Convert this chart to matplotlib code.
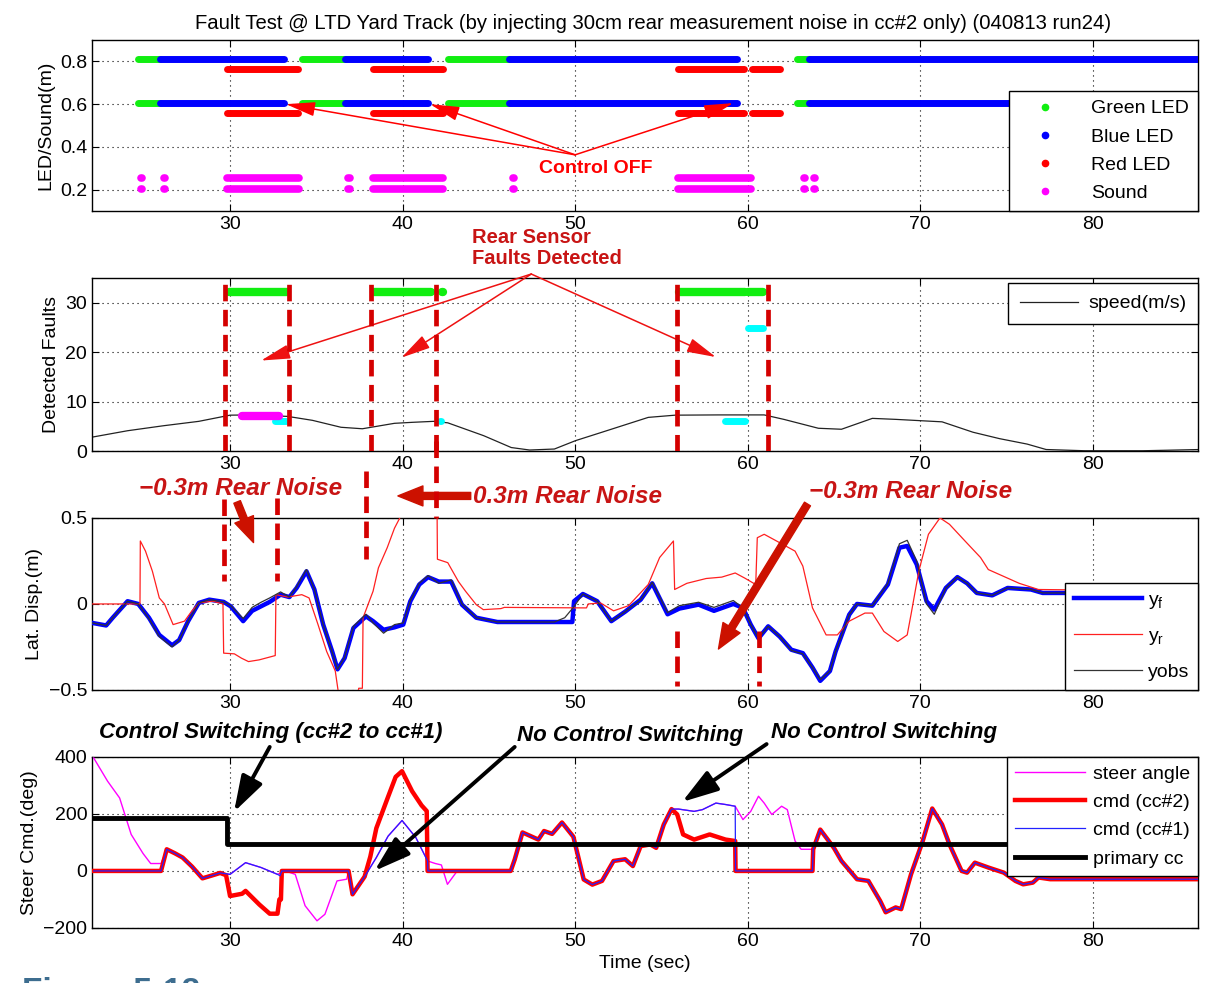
import numpy as np
import matplotlib
matplotlib.use("Agg")
import matplotlib.pyplot as plt
from matplotlib.lines import Line2D

plt.rcParams['font.family'] = ['Liberation Sans', 'DejaVu Sans']
plt.rcParams['mathtext.fontset'] = 'custom'
plt.rcParams['mathtext.rm'] = 'Liberation Sans'
plt.rcParams['mathtext.it'] = 'Liberation Sans:italic'

# ---- panel 1: LED / sound on-intervals (sec) ----
green_on = [(24.64, 25.96), (34.16, 36.64), (42.62, 46.16), (62.87, 63.54)]
blue_on = [(25.96, 33.13), (36.64, 41.48), (46.16, 59.4), (63.54, 86.2)]
red_on = [(29.84, 33.92), (38.29, 42.37), (55.99, 59.8), (60.25, 61.9)]
sound_on = [(24.82, 24.88), (26.15, 26.25), (29.84, 34.0), (36.85, 36.95),
            (38.29, 42.37), (46.4, 46.48), (55.99, 60.18), (63.27, 63.33),
            (63.87, 63.93)]
led_rows = [0.81, 0.607]
red_rows = [0.763, 0.56]
sound_rows = [0.255, 0.205]

# ---- panel 2: detected faults ----
fault_green = [(29.94, 33.3), (38.35, 41.63), (42.27, 42.33), (56.04, 59.84), (60.02, 60.92)]
fault_green_y = 32.1
fault_cyan_hi = [(60.02, 60.92)]
fault_cyan_hi_y = 24.8
fault_cyan_lo = [(32.58, 33.24), (42.17, 42.23), (58.68, 59.84)]
fault_cyan_lo_y = 6.0
fault_mag = [(30.7, 32.82)]
fault_mag_y = 7.05

speed_t = [22.0, 24.06, 26.12, 28.19, 30.0, 31.28, 33.34, 34.78, 36.43, 37.67,
           39.53, 40.56, 41.8, 42.62, 44.7, 46.3, 47.36, 48.8, 50.03, 51.56,
           52.9, 54.24, 55.8, 58.3, 60.96, 62.1, 64.1, 65.44, 67.23, 68.58,
           71.27, 73.06, 74.6, 76.2, 77.3, 79.55, 82.9, 86.2]
speed_v = [2.8, 4.1, 5.1, 6.0, 7.25, 7.3, 7.0, 6.2, 4.8, 4.5,
           5.6, 5.8, 6.0, 5.7, 3.1, 0.7, 0.2, 0.4, 2.1, 3.8,
           5.3, 6.8, 7.25, 7.3, 7.3, 6.4, 4.6, 4.4, 6.6, 6.4,
           5.9, 3.8, 2.5, 1.4, 0.3, 0.05, 0.05, 0.3]

fault_times = [29.73, 33.4, 38.19, 41.94, 55.92, 61.19]
# extra dashed marks drawn in panel-3 units: (time, y0, y1)
fault_marks_p3 = [(29.67, 0.61, 0.134), (32.72, 0.616, 0.134), (37.88, 0.773, 0.262),
                  (41.94, 0.95, 0.5), (55.88, -0.157, -0.477), (60.67, -0.157, -0.477)]

# ---- panel 3: lateral displacement ----
yf_t = [22.0, 22.82, 23.2, 24.06, 24.68, 25.3, 25.9, 26.64, 27.05, 27.57,
        28.19, 28.8, 29.63, 30.04, 30.76, 31.28, 32.3, 32.93, 33.44, 33.86,
        34.43, 34.89, 35.4, 35.92, 36.23, 36.64, 37.15, 37.88, 38.29, 38.9,
        39.53, 40.04, 40.45, 40.97, 41.48, 42.1, 42.82, 43.44, 44.27, 45.5,
        49.84, 49.94, 50.45, 51.28, 52.1, 52.9, 53.8, 54.47, 55.36, 56.04,
        57.16, 58.05, 59.17, 59.73, 60.18, 60.63, 61.19, 61.86, 62.53, 63.2,
        63.76, 64.21, 64.77, 65.1, 65.89, 66.34, 67.23, 68.13, 68.8, 69.25,
        69.8, 70.37, 70.82, 71.49, 72.16, 72.72, 73.28, 74.18, 75.07, 76.42,
        77.1, 86.2]
yf_v = [-0.11, -0.125, -0.08, 0.016, 0.0, -0.08, -0.18, -0.24, -0.21, -0.10,
        0.006, 0.025, 0.012, -0.014, -0.10, -0.04, 0.012, 0.054, 0.04, 0.093,
        0.19, 0.084, -0.12, -0.276, -0.38, -0.315, -0.14, -0.072, -0.10, -0.15,
        -0.136, -0.12, 0.016, 0.113, 0.156, 0.13, 0.13, -0.004, -0.08, -0.105,
        -0.105, 0.016, 0.058, 0.016, -0.10, -0.045, 0.025, 0.12, -0.06, -0.027,
        -0.004, -0.04, 0.0, -0.023, -0.12, -0.2, -0.13, -0.19, -0.266, -0.286,
        -0.37, -0.447, -0.39, -0.276, -0.062, 0.0, -0.01, 0.113, 0.327, 0.337,
        0.23, 0.016, -0.033, 0.093, 0.156, 0.12, 0.064, 0.05, 0.093, 0.084,
        0.064, 0.064]
yobs_t = [22.0, 22.82, 23.2, 24.06, 24.68, 25.3, 25.9, 26.64, 27.05, 27.57,
          28.19, 28.8, 29.63, 30.04, 30.76, 31.28, 31.8, 32.3, 32.93, 33.44,
          33.86, 34.43, 34.89, 35.4, 35.92, 36.23, 36.64, 37.15, 37.88, 38.29,
          38.9, 39.53, 40.04, 40.45, 40.97, 41.48, 42.1, 42.82, 43.44, 44.27,
          45.5, 48.8, 49.4, 49.9, 50.45, 51.28, 52.1, 52.9, 53.8, 54.47,
          55.36, 56.04, 57.16, 58.05, 59.17, 59.73, 60.18, 60.63, 61.19, 61.86,
          62.53, 63.2, 63.76, 64.21, 64.77, 65.1, 65.89, 66.34, 67.23, 68.13,
          68.8, 69.25, 69.8, 70.37, 70.82, 71.49, 72.16, 72.72, 73.28, 74.18,
          75.07, 76.42, 77.1, 86.2]
yobs_v = [-0.11, -0.125, -0.08, 0.016, 0.0, -0.085, -0.19, -0.25, -0.21, -0.10,
          0.006, 0.025, 0.012, -0.01, -0.085, -0.02, 0.01, 0.035, 0.07, 0.04,
          0.1, 0.2, 0.084, -0.12, -0.28, -0.38, -0.31, -0.13, -0.06, -0.11,
          -0.17, -0.12, -0.11, 0.02, 0.12, 0.165, 0.12, 0.14, -0.0, -0.08,
          -0.105, -0.105, -0.08, -0.02, 0.058, 0.016, -0.10, -0.045, 0.025, 0.125,
          -0.05, -0.01, 0.01, -0.02, 0.02, -0.023, -0.12, -0.2, -0.13, -0.19,
          -0.27, -0.29, -0.37, -0.44, -0.39, -0.276, -0.062, 0.0, -0.01, 0.12,
          0.35, 0.37, 0.25, 0.0, -0.06, 0.093, 0.156, 0.12, 0.064, 0.05,
          0.093, 0.084, 0.064, 0.064]
yr_t = [22.0, 24.78, 24.8, 25.1, 25.5, 25.9, 26.2, 26.7, 27.36, 27.77,
        28.19, 29.0, 29.59, 29.63, 30.25, 30.66, 31.07, 31.69, 32.62, 32.66,
        33.34, 34.16, 34.58, 35.1, 35.6, 36.1, 36.33, 37.36, 37.46, 37.67,
        37.71, 38.29, 38.6, 39.11, 39.53, 39.84, 39.94, 42.0, 42.02, 42.62,
        43.24, 43.65, 44.27, 44.68, 45.7, 45.9, 50.66, 50.76, 51.47, 52.23,
        53.1, 54.24, 54.9, 55.7, 55.77, 56.48, 57.6, 58.5, 59.28, 59.84,
        60.47, 60.56, 60.96, 61.86, 62.75, 63.2, 63.76, 64.55, 65.2, 65.89,
        66.8, 67.23, 67.9, 68.7, 69.25, 69.47, 69.92, 70.48, 71.15, 71.7,
        72.6, 73.5, 73.95, 75.07, 75.74, 76.86, 86.2]
yr_v = [0.0, 0.0, 0.366, 0.307, 0.19, 0.035, 0.0, -0.12, -0.10, -0.043,
        0.006, 0.016, 0.0, -0.286, -0.29, -0.315, -0.335, -0.325, -0.30, 0.054,
        0.04, 0.054, 0.035, -0.12, -0.276, -0.39, -0.55, -0.55, -0.49, -0.49,
        -0.08, 0.074, 0.21, 0.327, 0.44, 0.5, 0.55, 0.55, 0.26, 0.24,
        0.13, 0.074, -0.004, -0.033, -0.027, -0.02, -0.023, 0.0, 0.006, -0.04,
        -0.01, 0.113, 0.27, 0.366, 0.084, 0.12, 0.148, 0.156, 0.18, 0.15,
        0.113, 0.385, 0.405, 0.356, 0.307, 0.22, -0.023, -0.18, -0.18, -0.10,
        -0.053, -0.053, -0.16, -0.218, -0.18, -0.062, 0.19, 0.405, 0.5, 0.463,
        0.366, 0.27, 0.2, 0.15, 0.12, 0.084, 0.074]

# ---- panel 4: steering ----
steer_start_t = [22.1, 22.9, 23.6, 24.27, 24.96, 25.4, 26.0]
steer_start_v = [396, 315, 256, 128, 61, 26, 26]
zero_start_t = [22.1, 26.0]
zero_start_v = [0, 0]
common1_t = [26.33, 26.8, 27.25, 27.8, 28.4, 29.0, 29.43]
common1_v = [76, 62, 47, 15, -26, -15, -7]
cc2_a_t = [29.77, 30.0, 30.7, 30.9, 31.7, 32.3, 32.75, 32.86, 32.95, 33.0, 36.87]
cc2_a_v = [-15, -88, -80, -70, -118, -150, -150, -100, -100, 0, 0]
cc1_a_t = [30.0, 30.9, 31.8, 32.75, 32.9, 33.0, 36.87]
cc1_a_v = [-12, 29, 12, -12, -17, 0, 0]
steer_a_t = [30.0, 30.9, 31.8, 32.75, 33.2, 33.78, 34.35, 35.04, 35.5, 36.2, 36.76, 36.87]
steer_a_v = [-12, 29, 12, -12, 0, -12, -122, -175, -152, -35, -29, 0]
common2_t = [37.1, 37.8]
common2_v = [-82, -20]
cc2_b_t = [38.13, 38.48, 39.16, 39.6, 39.97, 40.55, 41.1, 41.4, 41.45, 46.27]
cc2_b_v = [50, 150, 260, 330, 350, 280, 230, 210, 0, 0]
cc1_b_t = [38.48, 39.16, 39.97, 40.77, 41.45, 41.47, 46.27]
cc1_b_v = [47, 122, 177, 117, 35, 0, 0]
steer_b_t = [38.48, 39.16, 39.97, 40.77, 41.45, 41.9, 42.25, 42.6, 43.17, 46.27]
steer_b_v = [47, 122, 177, 117, 35, 26, 21, -47, 0, 0]
common3_t = [46.5, 46.95, 47.87, 48.2, 48.67, 49.24, 49.9, 50.5, 51.0, 51.56,
             52.23, 52.9, 53.35, 53.8, 54.36, 54.7, 55.14, 55.59]
common3_v = [40, 135, 110, 140, 130, 170, 120, -30, -48, -35,
             35, 41, 17, 87, 93, 81, 163, 217]
cc2_c_t = [55.92, 56.26, 56.9, 57.8, 58.72, 59.28, 59.3, 63.76, 63.8]
cc2_c_v = [198, 128, 110, 128, 110, 105, 0, 0, 76]
cc1_c_t = [56.0, 56.9, 57.38, 58.16, 58.72, 59.28, 59.3, 63.76, 63.8]
cc1_c_v = [217, 209, 215, 238, 233, 227, 0, 0, 76]
steer_c_t = [56.0, 56.9, 57.38, 58.16, 58.72, 59.28, 59.73, 60.18, 60.63, 60.96,
             61.4, 61.97, 62.3, 62.75, 63.1, 63.76, 63.8]
steer_c_v = [217, 209, 215, 238, 233, 227, 180, 209, 262, 238,
             198, 227, 215, 105, 76, 76, 76]
common4_t = [64.21, 65.0, 65.44, 66.34, 67.0, 67.68, 68.0, 68.58, 68.9, 69.47,
             70.15, 70.7, 71.27, 71.7, 72.4, 72.72, 73.17, 73.95, 74.85, 75.52,
             75.97, 76.53, 76.86, 77.54, 86.2]
common4_v = [145, 81, 35, -29, -35, -105, -145, -128, -134, -12,
             105, 219, 163, 93, 0, -6, 29, 12, -6, -35,
             -47, -41, -23, -29, -29]
primary_t = [22.1, 29.8, 29.8, 86.2]
primary_v = [185, 185, 95, 95]


def join(*parts):
    return np.concatenate([np.asarray(p, float) for p in parts])


steer_t = join(steer_start_t, common1_t, steer_a_t, common2_t, steer_b_t, common3_t, steer_c_t, common4_t)
steer_v = join(steer_start_v, common1_v, steer_a_v, common2_v, steer_b_v, common3_v, steer_c_v, common4_v)
cc2_t = join(zero_start_t, common1_t, cc2_a_t, common2_t, cc2_b_t, common3_t, cc2_c_t, common4_t)
cc2_v = join(zero_start_v, common1_v, cc2_a_v, common2_v, cc2_b_v, common3_v, cc2_c_v, common4_v)
cc1_t = join(zero_start_t, common1_t, cc1_a_t, common2_t, cc1_b_t, common3_t, cc1_c_t, common4_t)
cc1_v = join(zero_start_v, common1_v, cc1_a_v, common2_v, cc1_b_v, common3_v, cc1_c_v, common4_v)

FS = 14
DARKRED = '#c81414'
FAULTRED = '#d40000'

fig = plt.figure(figsize=(12.06, 9.83), dpi=100)
L, W = 0.0763, 0.917
ax1 = fig.add_axes([L, 0.7853, W, 0.174])
ax2 = fig.add_axes([L, 0.5412, W, 0.176])
ax3 = fig.add_axes([L, 0.2981, W, 0.175])
ax4 = fig.add_axes([L, 0.0560, W, 0.174])

for ax in (ax1, ax2, ax3, ax4):
    ax.set_xlim(22, 86.1)
    ax.set_xticks([30, 40, 50, 60, 70, 80])
    ax.grid(True, color='k', linestyle=(0, (1, 3.5)), linewidth=0.8)
    ax.tick_params(direction='in', top=True, right=True, labelsize=FS, length=5)
    for s in ax.spines.values():
        s.set_linewidth(1.0)


def bars(ax, spans, y, color, lw):
    ax.hlines([y] * len(spans), [a for a, b in spans], [b for a, b in spans],
              colors=color, lw=lw, capstyle='round', zorder=3)


def box(leg):
    leg.get_frame().set_linewidth(1.0)
    return leg


# panel 1
for y in led_rows:
    bars(ax1, green_on, y, '#11ee11', 5)
    bars(ax1, blue_on, y, '#0000ff', 5)
for y in red_rows:
    bars(ax1, red_on, y, '#ff0000', 5)
for y in sound_rows:
    bars(ax1, sound_on, y, '#ff00ff', 5.5)
ax1.set_ylim(0.1, 0.9)
ax1.set_yticks([0.2, 0.4, 0.6, 0.8])
ax1.set_ylabel('LED/Sound(m)', fontsize=FS)
ax1.set_title('Fault Test @ LTD Yard Track (by injecting 30cm rear measurement noise in cc#2 only) (040813 run24)',
              fontsize=14.6, pad=8, x=0.507)
h1 = [Line2D([], [], ls='none', marker='.', markersize=9, color=c)
      for c in ['#11ee11', '#0000ff', '#ff0000', '#ff00ff']]
box(ax1.legend(h1, ['Green LED', 'Blue LED', 'Red LED', 'Sound'], loc='lower right',
               bbox_to_anchor=(1, 0), borderaxespad=0, fontsize=FS, fancybox=False,
               edgecolor='k', framealpha=1, handlelength=2.8, handletextpad=1.0,
               labelspacing=0.55, borderpad=0.45))
ax1.text(51.2, 0.298, 'Control OFF', color='red', fontsize=FS, fontweight='bold',
         ha='center', va='center')
for tx, ty in [(33.24, 0.6), (41.6, 0.6), (59.17, 0.605)]:
    ax1.annotate('', xy=(tx, ty), xytext=(50, 0.363),
                 arrowprops=dict(arrowstyle='-|>,head_length=0.9,head_width=0.22',
                                 color='red', lw=1.1, mutation_scale=20, shrinkA=0, shrinkB=0))

# panel 2
bars(ax2, fault_green, fault_green_y, '#11ee11', 6)
bars(ax2, fault_cyan_hi, fault_cyan_hi_y, '#00ffff', 5)
bars(ax2, fault_cyan_lo, fault_cyan_lo_y, '#00ffff', 5)
bars(ax2, fault_mag, fault_mag_y, '#ff00ff', 6)
ax2.plot(speed_t, speed_v, color='#222222', lw=0.9, label='speed(m/s)', zorder=2)
for ft in fault_times:
    ax2.plot([ft, ft], [0, 35], color=FAULTRED, lw=3.4, ls=(0, (3.5, 1.8)), zorder=4)
ax2.set_ylim(0, 35)
ax2.set_yticks([0, 10, 20, 30])
ax2.set_ylabel('Detected Faults', fontsize=FS)
box(ax2.legend(loc='upper right', bbox_to_anchor=(1, 0.97), borderaxespad=0, fontsize=FS,
               fancybox=False, edgecolor='k', framealpha=1, handlelength=3.0,
               handletextpad=0.5, borderpad=0.6))
ax2.text(44.0, 41.1, 'Rear Sensor\nFaults Detected', color=DARKRED, fontsize=14.5,
         fontweight='bold', ha='left', va='center', linespacing=1.1)
for tx, ty in [(31.8, 18.3), (39.94, 18.9), (58.16, 19.0)]:
    ax2.annotate('', xy=(tx, ty), xytext=(47.46, 35.8), annotation_clip=False,
                 arrowprops=dict(arrowstyle='-|>,head_length=0.9,head_width=0.22',
                                 color='#ee1111', lw=1.1, mutation_scale=20, shrinkA=0, shrinkB=0))

# panel 3
ax3.plot(yf_t, yf_v, color='#0000ff', lw=3.2, label='y$_\\mathrm{f}$', zorder=3)
ax3.plot(yr_t, yr_v, color='#ff2020', lw=0.9, label='y$_\\mathrm{r}$', zorder=3)
ax3.plot(yobs_t, yobs_v, color='#333333', lw=0.9, label='yobs', zorder=3)
for ft, y0, y1 in fault_marks_p3:
    ax3.plot([ft, ft], [y0, y1], color=FAULTRED, lw=3.4, ls=(0, (3.5, 1.8)),
             clip_on=False, zorder=4)
ax3.set_ylim(-0.5, 0.5)
ax3.set_yticks([-0.5, 0, 0.5])
ax3.set_yticklabels(['\u22120.5', '0', '0.5'])
ax3.set_ylabel('Lat. Disp.(m)', fontsize=FS)
box(ax3.legend(loc='lower right', bbox_to_anchor=(1, 0), borderaxespad=0, fontsize=FS,
               fancybox=False, edgecolor='k', framealpha=1, handlelength=3.5,
               handletextpad=0.3, labelspacing=0.85, borderpad=0.45))
noise_font = dict(color=DARKRED, fontsize=17.5, fontweight='bold', fontstyle='italic',
                  ha='left', va='center')
ax3.text(24.73, 0.674, '\u22120.3m Rear Noise', **noise_font)
ax3.text(44.07, 0.622, '0.3m Rear Noise', **noise_font)
ax3.text(63.53, 0.651, '\u22120.3m Rear Noise', **noise_font)
thick = dict(arrowstyle='simple,head_length=1.5,head_width=1.2,tail_width=0.42',
             color='#cc1100', mutation_scale=12, shrinkA=0, shrinkB=0)
for (x0, y0), (x1, y1) in [((30.41, 0.593), (31.36, 0.357)),
                           ((43.95, 0.628), (39.73, 0.628)),
                           ((63.47, 0.581), (58.31, -0.262))]:
    ax3.annotate('', xy=(x1, y1), xytext=(x0, y0), annotation_clip=False, arrowprops=thick)

# panel 4
ax4.plot(steer_t, steer_v, color='#ff00ff', lw=1.0, label='steer angle', zorder=3)
ax4.plot(cc2_t, cc2_v, color='#ff0000', lw=3.2, label='cmd (cc#2)', zorder=3)
ax4.plot(cc1_t, cc1_v, color='#2222ff', lw=0.9, label='cmd (cc#1)', zorder=3)
ax4.plot(primary_t, primary_v, color='k', lw=3.5, label='primary cc', zorder=3)
ax4.set_ylim(-200, 400)
ax4.set_yticks([-200, 0, 200, 400])
ax4.set_ylabel('Steer Cmd.(deg)', fontsize=FS)
ax4.set_xlabel('Time (sec)', fontsize=FS)
box(ax4.legend(loc='upper right', bbox_to_anchor=(1, 1), borderaxespad=0, fontsize=FS,
               fancybox=False, edgecolor='k', framealpha=1, handlelength=3.6,
               handletextpad=0.4, labelspacing=0.55, borderpad=0.42))
sw_font = dict(color='k', fontsize=16, fontweight='bold', fontstyle='italic',
               ha='left', va='center')
ax4.text(22.41, 484, 'Control Switching (cc#2 to cc#1)', **sw_font)
ax4.text(46.62, 474, 'No Control Switching', **sw_font)
ax4.text(61.33, 484, 'No Control Switching', **sw_font)
black_arrow = dict(arrowstyle='-|>,head_length=1.1,head_width=0.35', color='k', lw=2.8,
                   mutation_scale=20, shrinkA=0, shrinkB=0)
for (x0, y0), (x1, y1) in [((32.3, 435), (30.23, 207)),
                           ((46.5, 435), (38.37, 0)),
                           ((61.1, 445), (56.2, 242))]:
    ax4.annotate('', xy=(x1, y1), xytext=(x0, y0), annotation_clip=False, arrowprops=black_arrow)

fig.text(0.018, -0.018, 'Figure 5-12', fontsize=24, fontweight='bold', color='#3d6d8f',
         va='baseline', ha='left')

fig.savefig('out.png', dpi=100)
